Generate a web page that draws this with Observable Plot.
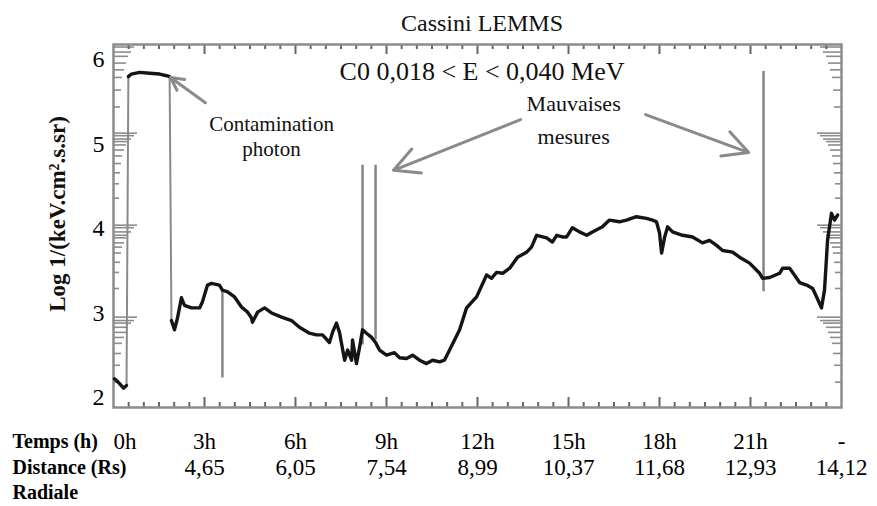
<!DOCTYPE html>
<html><head><meta charset="utf-8">
<script src="https://cdn.jsdelivr.net/npm/d3@7"></script>
<script src="https://cdn.jsdelivr.net/npm/@observablehq/plot@0.6"></script>
<style>body{margin:0;background:#fff;}</style>
</head><body><div id="chart"></div>
<script>
// ---- texts ----
const title = "Cassini LEMMS";
const subtitle = "C0 0,018 < E < 0,040 MeV";
const yLabel = "Log 1/(keV.cm².s.sr)";
const rowLabels = ["Temps (h)", "Distance (Rs)", "Radiale"];
const timeHours = [0, 3, 6, 9, 12, 15, 18, 21, 24];
const timeLabels = ["0h", "3h", "6h", "9h", "12h", "15h", "18h", "21h", "-"];
const distLabels = ["", "4,65", "6,05", "7,54", "8,99", "10,37", "11,68", "12,93", "14,12"];
const yTickValues = [2, 3, 4, 5, 6];

// ---- data: hours since start, log10 flux ----
const startT = [0.03, 0.13, 0.23, 0.33, 0.43];
const startV = [2.22, 2.19, 2.15, 2.11, 2.14];
const plateauT = [0.49, 0.59, 0.86, 1.19, 1.52, 1.75, 1.85];
const plateauV = [5.80, 5.83, 5.85, 5.84, 5.83, 5.81, 5.80];
const mainT = [1.91,2.01,2.11,2.24,2.34,2.57,2.84,2.93,3.10,3.23,3.49,3.59,3.76,3.99,4.22,4.42,4.55,4.58,4.75,4.98,
  5.21,5.54,5.87,6.13,6.46,6.69,6.89,7.12,7.22,7.35,7.45,7.62,7.72,7.85,7.88,8.01,8.11,8.21,8.34,8.51,
  8.64,8.77,9.00,9.26,9.43,9.66,9.86,10.09,10.32,10.52,10.75,10.91,11.08,11.41,11.64,11.97,12.30,12.46,12.63,12.83,
  13.06,13.32,13.62,13.78,13.95,14.28,14.47,14.61,14.80,14.94,15.13,15.36,15.60,15.79,16.12,16.35,16.68,16.91,17.24,17.57,
  17.77,17.90,18.00,18.07,18.17,18.27,18.43,18.76,19.09,19.42,19.65,19.88,20.08,20.41,20.64,20.97,21.30,21.40,21.63,21.96,
  22.06,22.29,22.39,22.62,22.85,23.05,23.18,23.34,23.44,23.54,23.67,23.77,23.87];
const mainV = [2.91,2.80,2.94,3.18,3.09,3.06,3.06,3.13,3.33,3.35,3.33,3.27,3.25,3.19,3.07,3.01,2.94,2.89,3.01,3.06,
  3.00,2.95,2.91,2.83,2.76,2.74,2.74,2.65,2.77,2.88,2.77,2.44,2.56,2.44,2.68,2.40,2.59,2.80,2.76,2.71,
  2.65,2.56,2.50,2.53,2.47,2.46,2.50,2.44,2.40,2.44,2.42,2.44,2.56,2.80,3.06,3.19,3.45,3.41,3.48,3.47,
  3.53,3.66,3.72,3.78,3.92,3.89,3.84,3.92,3.90,3.90,4.01,3.96,3.92,3.96,4.02,4.10,4.08,4.10,4.14,4.12,
  4.10,4.08,3.95,3.71,3.90,4.02,3.96,3.92,3.90,3.83,3.86,3.80,3.74,3.72,3.66,3.59,3.47,3.41,3.42,3.47,
  3.53,3.53,3.48,3.36,3.33,3.29,3.19,3.06,3.27,3.86,4.18,4.10,4.16];

// bad-measurement spikes
const spikeT = [3.59, 8.21, 8.64, 21.43];
const spikeFrom = [3.27, 2.62, 2.68, 3.25];
const spikeTo = [2.23, 4.75, 4.75, 5.86];

// minor (log) tick bundles on the y axes
const yBundle6 = [6.15, 6.09, 6.04, 5.96, 5.88, 5.79, 5.64, 5.44];
const yBundle5 = [5.13, 5.10, 5.06, 5.03, 4.99, 4.93, 4.86, 4.77, 4.66, 4.53, 4.36];
const yBundle4 = [4.04, 4.01, 3.96, 3.92, 3.89, 3.83, 3.78, 3.71, 3.60, 3.48, 3.29];
const yBundle3 = [2.95, 2.91, 2.88, 2.83, 2.77, 2.71, 2.64, 2.52, 2.38, 2.18];

// annotations
const annTexts = ["Contamination", "photon", "Mauvaises", "mesures"];
const annT = [5.21, 5.21, 15.17, 15.17];
const annV = [5.24, 4.94, 5.48, 5.09];
const arrowX1 = [3.03, 13.42, 17.54];
const arrowY1 = [5.49, 5.29, 5.35];
const arrowX2 = [1.88, 9.23, 20.94];
const arrowY2 = [5.79, 4.69, 4.90];

// ---- build ----
const X0 = 0, X1 = 24, Y0 = 1.88, Y1 = 6.18;
const W = 877, H = 506, mL = 113, mR = 36, mT = 44, mB = 99;
const hPerPx = (X1 - X0) / (W - mL - mR);
const uPerPx = (Y1 - Y0) / (H - mT - mB);

const pts = [
  ...startT.map((t, i) => ({t, v: startV[i], piece: "a"})),
  ...plateauT.map((t, i) => ({t, v: plateauV[i], piece: "b"})),
  ...mainT.map((t, i) => ({t, v: mainV[i], piece: "c"}))
];
const spikes = spikeT.map((t, i) => ({t, a: spikeFrom[i], b: spikeTo[i]}));
const tickLens = [24, 21, 18, 15, 13, 11, 9, 8, 7, 6, 6];
const bundle = (vals, s = 0) => vals.map((v, i) => ({v, len: tickLens[Math.min(s + i, tickLens.length - 1)]}));
const yTicks = [...bundle(yBundle6, 1), ...bundle(yBundle5), ...bundle(yBundle4), ...bundle(yBundle3)];
const xTicks = d3.range(1, 48).map(i => ({t: i / 2, len: i % 6 === 0 ? 10 : 5}));
const arrows = arrowX1.map((x, i) => ({x1: x, y1: arrowY1[i], x2: arrowX2[i], y2: arrowY2[i]}));
const anns = annTexts.map((s, i) => ({s, t: annT[i], v: annV[i], big: i >= 2}));
const tRows = timeHours.map((t, i) => ({t, lab: timeLabels[i], dist: distLabels[i]}));

const font = "Liberation Serif, Times New Roman, serif";
const rowText = (s, dy) => Plot.text([s], {frameAnchor: "bottom-left", dx: -101, dy, textAnchor: "start", lineAnchor: "middle", fontSize: 20, fontWeight: "bold", fill: "#000"});
const chart = Plot.plot({
  width: W, height: H,
  marginLeft: mL, marginRight: mR, marginTop: mT, marginBottom: mB,
  style: {fontFamily: font, background: "#fff", color: "#000", overflow: "visible"},
  x: {domain: [X0, X1], axis: null},
  y: {domain: [Y0, Y1], axis: null},
  marks: [
    // y tick bundles, left and right
    Plot.ruleY(yTicks, {y: "v", x1: X0, x2: d => X0 + d.len * hPerPx, stroke: "#8c8c8c", strokeWidth: 1.6}),
    Plot.ruleY(yTicks, {y: "v", x1: X1, x2: d => X1 - d.len * hPerPx, stroke: "#8c8c8c", strokeWidth: 1.6}),
    // x ticks, bottom and top
    Plot.ruleX(xTicks, {x: "t", y1: Y0, y2: d => Y0 + d.len * uPerPx, stroke: "#666", strokeWidth: 2}),
    Plot.ruleX(xTicks, {x: "t", y1: Y1, y2: d => Y1 - d.len * uPerPx, stroke: "#666", strokeWidth: 2}),
    Plot.frame({stroke: "#8c8c8c", strokeWidth: 2.5}),
    // spikes
    Plot.ruleX(spikes, {x: "t", y1: "a", y2: "b", stroke: "#858585", strokeWidth: 2.5}),
    // curve: grey connectors under black data
    Plot.line(pts, {x: "t", y: "v", stroke: "#8a8a8a", strokeWidth: 2}),
    Plot.line(pts, {x: "t", y: "v", z: "piece", stroke: "#151515", strokeWidth: 3.4, strokeLinejoin: "round", strokeLinecap: "round"}),
    // arrows
    Plot.arrow(arrows, {x1: "x1", y1: "y1", x2: "x2", y2: "y2", stroke: "#8a8a8a", strokeWidth: 3, headLength: 14, headAngle: 55}),
    // annotations
    Plot.text(anns.filter(d => !d.big), {x: "t", y: "v", text: "s", fontSize: 21, fill: "#111"}),
    Plot.text(anns.filter(d => d.big), {x: "t", y: "v", text: "s", fontSize: 22, fill: "#111"}),
    Plot.text([subtitle], {x: 12.15, y: 5.86, fontSize: 26, fill: "#111"}),
    Plot.text([title], {x: 12.15, frameAnchor: "top", lineAnchor: "middle", dy: -21, fontSize: 24, fill: "#111"}),
    // y axis
    Plot.axisY({ticks: yTickValues, tickSize: 0, tickPadding: 9, tickFormat: d => String(d), fontSize: 24, label: null, fontFamily: font}),
    Plot.text([yLabel], {frameAnchor: "left", dx: -56, dy: -12, rotate: -90, textAnchor: "middle", lineAnchor: "middle", fontSize: 23, fontWeight: "bold", fill: "#111"}),
    // bottom table
    Plot.text(tRows.slice(0, 1), {x: "t", text: "lab", frameAnchor: "bottom", lineAnchor: "middle", dy: 34, textAnchor: "start", fontSize: 23}),
    Plot.text(tRows.slice(1), {x: "t", text: "lab", frameAnchor: "bottom", lineAnchor: "middle", dy: 34, fontSize: 23}),
    Plot.text(tRows, {x: "t", text: "dist", frameAnchor: "bottom", lineAnchor: "middle", dy: 60, fontSize: 23}),
    rowText(rowLabels[0], 34),
    rowText(rowLabels[1], 60),
    rowText(rowLabels[2], 85)
  ]
});
document.getElementById("chart").appendChild(chart);
</script>
</body></html>
